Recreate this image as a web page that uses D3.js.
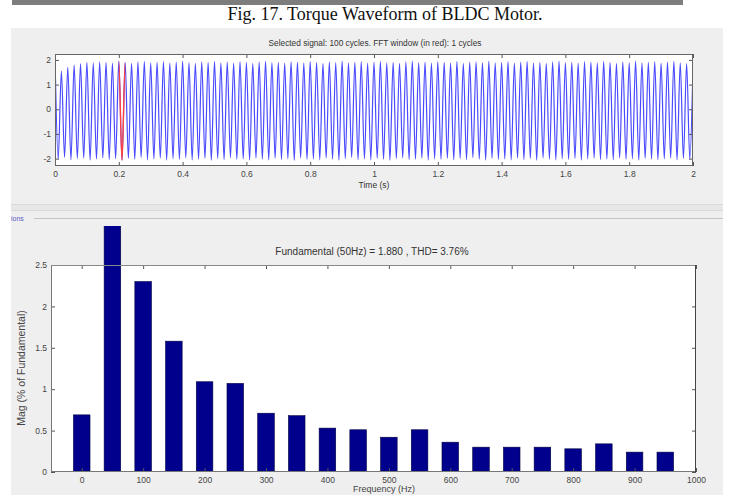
<!DOCTYPE html>
<html>
<head>
<meta charset="utf-8">
<script src="https://cdn.jsdelivr.net/npm/d3@7/dist/d3.min.js"></script>
<style>
  html, body { margin: 0; padding: 0; background: #ffffff; }
  svg { display: block; }
  .tick text { font-family: "Liberation Sans", Arial, sans-serif; }
</style>
</head>
<body>
<svg id="chart" width="730" height="495"></svg>
<script>
// ---------- DATA ----------
const captionText = "Fig. 17. Torque Waveform of BLDC Motor.";
const signalTitle = "Selected signal: 100 cycles. FFT window (in red): 1 cycles";
const fftTitle = "Fundamental (50Hz) = 1.880 , THD= 3.76%";

// waveform extrema (estimated per cycle), fundamental 50 Hz, 0..2 s
const halfPeriod = 0.01;
const peakValues = [
  2.20, 1.55, 1.70, 1.80, 1.85, 1.90, 1.88, 1.92, 1.90, 1.87,
  1.95, 1.90, 1.86, 1.92, 1.94, 1.88, 1.90, 1.93, 1.87, 1.91,
  1.95, 1.89, 1.86, 1.92, 1.90, 1.94, 1.88, 1.91, 1.87, 1.93,
  1.90, 1.86, 1.92, 1.95, 1.89, 1.90, 1.87, 1.93, 1.91, 1.88,
  1.94, 1.90, 1.86, 1.92, 1.89, 1.95, 1.88, 1.90, 1.93, 1.87,
  1.91, 1.94, 1.88, 1.90, 1.86, 1.92, 1.95, 1.89, 1.91, 1.87,
  1.93, 1.90, 1.88, 1.94, 1.86, 1.91, 1.92, 1.89, 1.95, 1.88,
  1.90, 1.93, 1.87, 1.91, 1.94, 1.88, 1.90, 1.86, 1.92, 1.95,
  1.89, 1.90, 1.87, 1.93, 1.91, 1.88, 1.94, 1.90, 1.86, 1.92,
  1.89, 1.95, 1.88, 1.90, 1.93, 1.87, 1.91, 1.94, 1.88, 1.85,
  1.80
];
const troughValues = [
  -2.02, -1.95, -2.05, -2.00, -1.98, -2.06, -2.01, -1.97, -2.04, -2.00,
  -2.07, -1.99, -2.03, -1.96, -2.05, -2.01, -1.98, -2.06, -2.00, -2.03,
  -1.97, -2.05, -2.02, -1.99, -2.07, -2.00, -2.04, -1.96, -2.03, -2.01,
  -2.06, -1.98, -2.02, -2.05, -1.99, -2.04, -2.00, -2.07, -1.97, -2.03,
  -2.01, -2.05, -1.98, -2.02, -2.06, -2.00, -1.96, -2.04, -2.01, -2.05,
  -1.99, -2.03, -2.07, -2.00, -1.97, -2.04, -2.02, -1.98, -2.06, -2.01,
  -2.03, -1.99, -2.05, -2.00, -2.04, -1.96, -2.02, -2.06, -1.99, -2.03,
  -2.01, -2.05, -1.98, -2.04, -2.00, -2.07, -1.97, -2.02, -2.05, -2.00,
  -2.03, -1.99, -2.06, -2.01, -1.98, -2.04, -2.02, -2.05, -1.97, -2.03,
  -2.00, -2.06, -1.99, -2.02, -2.04, -2.01, -1.98, -2.05, -2.00, -2.03
];
const fftWindow = [0.20, 0.22];
const timeTicks = [0, 0.2, 0.4, 0.6, 0.8, 1, 1.2, 1.4, 1.6, 1.8, 2];
const torqueTicks = [-2, -1, 0, 1, 2];

// harmonic spectrum (% of fundamental); the 50 Hz bar is the fundamental (100 %), clipped
const harmonicFreqs = [0, 50, 100, 150, 200, 250, 300, 350, 400, 450, 500, 550, 600, 650, 700, 750, 800, 850, 900, 950];
const harmonicMags  = [0.69, 100, 2.30, 1.58, 1.09, 1.07, 0.71, 0.68, 0.53, 0.51, 0.42, 0.51, 0.36, 0.30, 0.30, 0.30, 0.28, 0.34, 0.24, 0.24];
const freqTicks = [0, 100, 200, 300, 400, 500, 600, 700, 800, 900, 1000];
const magTicks = [0, 0.5, 1, 1.5, 2, 2.5];

// ---------- DRAW ----------
const svg = d3.select("#chart");
const FONT = "'Liberation Sans', Arial, sans-serif";

// top dark strip
svg.append("rect").attr("x", 12).attr("y", 0).attr("width", 671).attr("height", 5).attr("fill", "#7d7d7d");
// caption
svg.append("text").attr("x", 385).attr("y", 20).attr("text-anchor", "middle")
  .attr("font-family", "'Liberation Serif', 'Times New Roman', serif").attr("font-size", 18)
  .attr("fill", "#111").text(captionText);

// GUI panel background
svg.append("rect").attr("x", 11).attr("y", 28).attr("width", 712).attr("height", 467).attr("fill", "#efefef");
// separator lines
svg.append("rect").attr("x", 11).attr("y", 204).attr("width", 712).attr("height", 1).attr("fill", "#dadada");
svg.append("rect").attr("x", 11).attr("y", 205).attr("width", 712).attr("height", 5).attr("fill", "#e7e7e7");
svg.append("rect").attr("x", 11).attr("y", 210).attr("width", 712).attr("height", 1).attr("fill", "#dadada");
svg.append("rect").attr("x", 34).attr("y", 218).attr("width", 689).attr("height", 1).attr("fill", "#c4c4c4");
svg.append("text").attr("x", 11).attr("y", 221).attr("font-family", FONT).attr("font-size", 7)
  .attr("fill", "#5a5ac8").text("ions");

// ===== top plot: waveform =====
const T = { l: 55, r: 693, t: 54, b: 166 };
const xT = d3.scaleLinear().domain([0, 2]).range([T.l, T.r]);
const yT = d3.scaleLinear().domain([-2.3, 2.24]).range([T.b, T.t]);

svg.append("rect").attr("x", T.l).attr("y", T.t).attr("width", T.r - T.l).attr("height", T.b - T.t).attr("fill", "#fff");

const wavePts = [];
peakValues.forEach((v, i) => {
  wavePts.push([2 * i * halfPeriod, v]);
  if (i < troughValues.length) wavePts.push([(2 * i + 1) * halfPeriod, troughValues[i]]);
});
const waveLine = d3.line().x(d => xT(d[0])).y(d => yT(d[1])).curve(d3.curveMonotoneX);

svg.append("clipPath").attr("id", "clipTop").append("rect")
  .attr("x", T.l).attr("y", T.t).attr("width", T.r - T.l).attr("height", T.b - T.t);
svg.append("clipPath").attr("id", "clipRed").append("rect")
  .attr("x", xT(fftWindow[0])).attr("y", T.t).attr("width", xT(fftWindow[1]) - xT(fftWindow[0])).attr("height", T.b - T.t);

svg.append("path").datum(wavePts).attr("clip-path", "url(#clipTop)")
  .attr("d", waveLine).attr("fill", "none").attr("stroke", "#4a4aff").attr("stroke-width", 1.2);
svg.append("path").datum(wavePts).attr("clip-path", "url(#clipRed)")
  .attr("d", waveLine).attr("fill", "none").attr("stroke", "#ff4040").attr("stroke-width", 1.4);

function styleAxis(g) {
  g.select(".domain").remove();
  g.selectAll(".tick line").attr("stroke", "#555");
  g.selectAll(".tick text").attr("fill", "#444").attr("font-size", 8.5).attr("font-family", FONT);
}
const fmt = d => String(d);

svg.append("g").attr("transform", `translate(0,${T.b})`)
  .call(d3.axisBottom(xT).tickValues(timeTicks).tickFormat(fmt).tickSize(-4).tickPadding(5)).call(styleAxis);
svg.append("g").attr("transform", `translate(0,${T.t})`)
  .call(d3.axisTop(xT).tickValues(timeTicks).tickFormat("").tickSize(-4)).call(styleAxis);
svg.append("g").attr("transform", `translate(${T.l},0)`)
  .call(d3.axisLeft(yT).tickValues(torqueTicks).tickFormat(fmt).tickSize(-4).tickPadding(4)).call(styleAxis);
svg.append("g").attr("transform", `translate(${T.r},0)`)
  .call(d3.axisRight(yT).tickValues(torqueTicks).tickFormat("").tickSize(-4)).call(styleAxis);
svg.append("rect").attr("x", T.l + 0.5).attr("y", T.t + 0.5).attr("width", T.r - T.l - 1).attr("height", T.b - T.t - 1)
  .attr("fill", "none").attr("stroke", "#666").attr("stroke-width", 1);

svg.append("text").attr("x", 375).attr("y", 46).attr("text-anchor", "middle").attr("font-family", FONT)
  .attr("font-size", 8.3).attr("fill", "#333").text(signalTitle);
svg.append("text").attr("x", 374).attr("y", 188).attr("text-anchor", "middle").attr("font-family", FONT)
  .attr("font-size", 8.5).attr("fill", "#333").text("Time (s)");

// ===== bottom plot: spectrum =====
const B = { l: 51, r: 696, t: 265, b: 472 };
const xB = d3.scaleLinear().domain([-50, 1000]).range([B.l, B.r]);
const yB = d3.scaleLinear().domain([0, 2.5]).range([B.b, B.t]);

svg.append("rect").attr("x", B.l).attr("y", B.t).attr("width", B.r - B.l).attr("height", B.b - B.t).attr("fill", "#fff");

svg.append("clipPath").attr("id", "clipBars").append("rect")
  .attr("x", B.l).attr("y", 226).attr("width", B.r - B.l).attr("height", B.b - 226);

const barW = (xB(50) - xB(0)) * 0.54;
svg.append("g").attr("clip-path", "url(#clipBars)")
  .selectAll("rect").data(harmonicFreqs).join("rect")
  .attr("x", (d) => xB(d) - barW / 2)
  .attr("y", (d, i) => yB(harmonicMags[i]))
  .attr("width", barW)
  .attr("height", (d, i) => B.b - yB(harmonicMags[i]))
  .attr("fill", "#00008c").attr("stroke", "#000040").attr("stroke-width", 0.6);

svg.append("g").attr("transform", `translate(0,${B.b})`)
  .call(d3.axisBottom(xB).tickValues(freqTicks).tickFormat(fmt).tickSize(-4).tickPadding(5)).call(styleAxis);
svg.append("g").attr("transform", `translate(0,${B.t})`)
  .call(d3.axisTop(xB).tickValues(freqTicks).tickFormat("").tickSize(-4)).call(styleAxis);
svg.append("g").attr("transform", `translate(${B.l},0)`)
  .call(d3.axisLeft(yB).tickValues(magTicks).tickFormat(fmt).tickSize(-4).tickPadding(4)).call(styleAxis);
svg.append("g").attr("transform", `translate(${B.r},0)`)
  .call(d3.axisRight(yB).tickValues(magTicks).tickFormat("").tickSize(-4)).call(styleAxis);
// axes box
svg.append("line").attr("x1", B.l + 0.5).attr("x2", B.l + 0.5).attr("y1", B.t).attr("y2", B.b).attr("stroke", "#777");
svg.append("line").attr("x1", B.l).attr("x2", B.r).attr("y1", B.b - 0.5).attr("y2", B.b - 0.5).attr("stroke", "#777");
svg.append("line").attr("x1", B.l).attr("x2", B.r).attr("y1", B.t + 0.5).attr("y2", B.t + 0.5).attr("stroke", "#888");
svg.append("line").attr("x1", B.r - 0.5).attr("x2", B.r - 0.5).attr("y1", B.t).attr("y2", B.b).attr("stroke", "#444");

svg.append("text").attr("x", 372).attr("y", 255).attr("text-anchor", "middle").attr("font-family", FONT)
  .attr("font-size", 10).attr("fill", "#333").text(fftTitle);
svg.append("text").attr("transform", `translate(25,368) rotate(-90)`).attr("text-anchor", "middle")
  .attr("font-family", FONT).attr("font-size", 10.5).attr("fill", "#444").text("Mag (% of Fundamental)");
svg.append("text").attr("x", 384).attr("y", 492).attr("text-anchor", "middle").attr("font-family", FONT)
  .attr("font-size", 9).attr("fill", "#444").text("Frequency (Hz)");
</script>
</body>
</html>
